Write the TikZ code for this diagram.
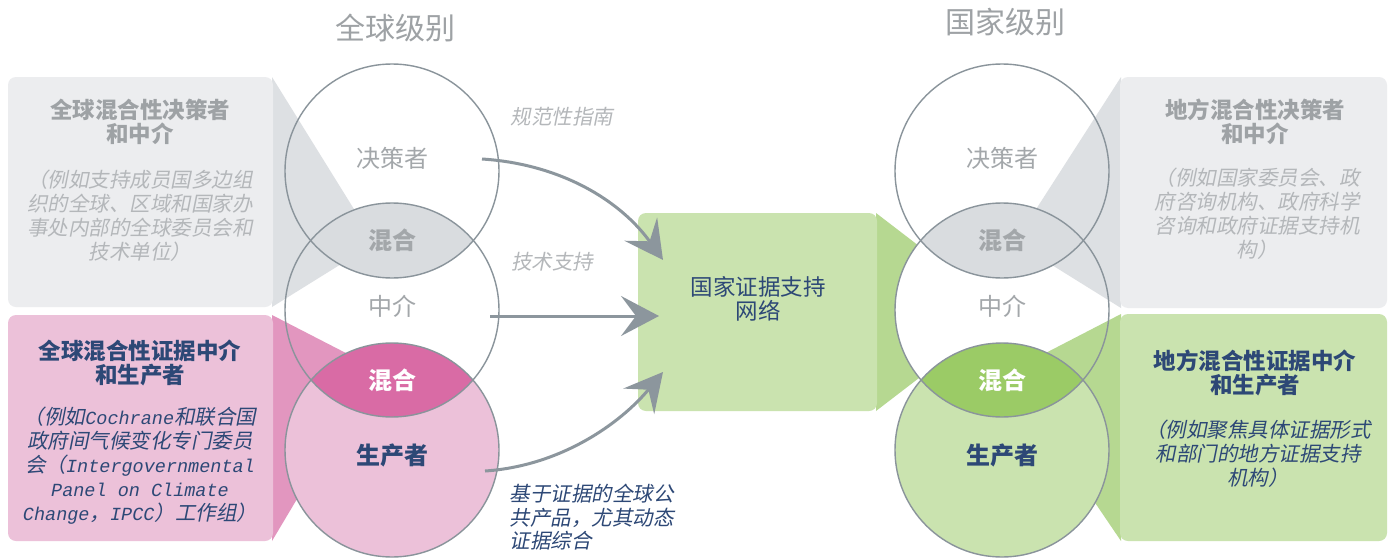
\documentclass[tikz,border=0pt]{standalone}
\usepackage{fontspec}
\setmainfont{Noto Sans CJK SC}[AutoFakeSlant=0.2]
\setmonofont{Liberation Mono}
\usetikzlibrary{arrows.meta}
\definecolor{headgray}{HTML}{9EA2A5}
\definecolor{textgray}{HTML}{A3A7AA}
\definecolor{notegray}{HTML}{B4B7BA}
\definecolor{navy}{HTML}{2D4876}
\definecolor{ringgray}{HTML}{8A949B}
\definecolor{arrowgray}{HTML}{8C969D}
\definecolor{boxgray}{HTML}{ECEDEF}
\definecolor{wedgegray}{HTML}{DDE0E3}
\definecolor{lensgray}{HTML}{D9DCDF}
\definecolor{boxpink}{HTML}{ECC1D9}
\definecolor{wedgepink}{HTML}{E296BF}
\definecolor{lenspink}{HTML}{D96BA5}
\definecolor{boxgreen}{HTML}{CAE3AF}
\definecolor{wedgegreen}{HTML}{B6D891}
\definecolor{lensgreen}{HTML}{9BCB66}
\newcommand{\fsz}[2]{\fontsize{#1}{#2}\selectfont}
\newcommand{\lat}[1]{{\ttfamily\fsz{18.5}{24}#1}}
\begin{document}
\begin{tikzpicture}[x=1pt,y=-1pt,
    ring/.style={draw=ringgray,line width=1.4pt},
    levelhead/.style={font=\fsz{30}{32},text=headgray},
    ringlabel/.style={font=\fsz{24}{26}},
    boxtitle/.style={align=center,font=\fsz{22.5}{24}\bfseries},
    boxnote/.style={align=center,font=\fsz{20.5}{24}\itshape},
    flowlabel/.style={font=\fsz{20.5}{23.5}\itshape},
    flow/.style={draw=arrowgray,line width=3pt,-{Stealth[length=38pt,width=40pt,inset=15pt]}}]
  \useasboundingbox[fill=white] (0,0) rectangle (1392,557);
  % centres of the rings
  \coordinate (gdm) at (392,171);
  \coordinate (gbr) at (392,310);
  \coordinate (gpr) at (392,450);
  \coordinate (ndm) at (1002,171);
  \coordinate (nbr) at (1002,310);
  \coordinate (npr) at (1002,450);
  % left boxes and their wedges
  \fill[wedgegray] (272,77) -- (375,243) -- (272,307) -- cycle;
  \fill[boxgray,rounded corners=8pt] (8,77) rectangle (273,307);
  \fill[wedgepink] (272,315) -- (375,368) -- (272,541) -- cycle;
  \fill[boxpink,rounded corners=8pt] (8,315) rectangle (273,541);
  % network box
  \fill[wedgegreen] (876,213) -- (1005,312) -- (876,411) -- cycle;
  \fill[boxgreen,rounded corners=8pt] (638,213) rectangle (877,411);
  \fill[white] (nbr) circle[radius=107pt];
  % right boxes and their wedges
  \fill[wedgegray] (1121,77) -- (1015,242) -- (1121,308) -- cycle;
  \fill[boxgray,rounded corners=8pt] (1120,77) rectangle (1387,308);
  \fill[wedgegreen] (1121,314) -- (1007,373) -- (1121,541) -- cycle;
  \fill[boxgreen,rounded corners=8pt] (1120,314) rectangle (1387,541);
  % rings and overlaps
  \fill[boxpink] (gpr) circle[radius=107pt];
  \fill[boxgreen] (npr) circle[radius=107pt];
  \begin{scope}
    \clip (gdm) circle[radius=107pt];
    \fill[lensgray] (gbr) circle[radius=107pt];
  \end{scope}
  \begin{scope}
    \clip (gbr) circle[radius=107pt];
    \fill[lenspink] (gpr) circle[radius=107pt];
  \end{scope}
  \begin{scope}
    \clip (ndm) circle[radius=107pt];
    \fill[lensgray] (nbr) circle[radius=107pt];
  \end{scope}
  \begin{scope}
    \clip (nbr) circle[radius=107pt];
    \fill[lensgreen] (npr) circle[radius=107pt];
  \end{scope}
  \foreach \c in {gdm,gbr,gpr,ndm,nbr,npr}
    \draw[ring] (\c) circle[radius=107pt];
  % headings
  \node[levelhead] (ghead) at (395,28) {全球级别};
  \node[levelhead] (nhead) at (1005,22) {国家级别};
  % ring labels
  \node[ringlabel,text=textgray] (gdmtxt) at (392,158) {决策者};
  \node[ringlabel,text=textgray,font=\fsz{24}{26}\bfseries] (gmix1) at (392,240) {混合};
  \node[ringlabel,text=textgray] (gbrtxt) at (392,306) {中介};
  \node[ringlabel,text=white,font=\fsz{24}{26}\bfseries] (gmix2) at (392,380) {混合};
  \node[ringlabel,text=navy,font=\fsz{24}{26}\bfseries] (gprtxt) at (392,455) {生产者};
  \node[ringlabel,text=textgray] (ndmtxt) at (1002,158) {决策者};
  \node[ringlabel,text=textgray,font=\fsz{24}{26}\bfseries] (nmix1) at (1002,240) {混合};
  \node[ringlabel,text=textgray] (nbrtxt) at (1002,306) {中介};
  \node[ringlabel,text=white,font=\fsz{24}{26}\bfseries] (nmix2) at (1002,380) {混合};
  \node[ringlabel,text=navy,font=\fsz{24}{26}\bfseries] (nprtxt) at (1002,455) {生产者};
  % box texts
  \node[boxtitle,text=headgray] (gdmhead) at (140,122) {全球混合性决策者\\和中介};
  \node[boxnote,text=notegray] (gdmnote) at (140,216)
    {（例如支持成员国多边组\\织的全球、区域和国家办\\事处内部的全球委员会和\\技术单位）};
  \node[boxtitle,text=navy] (gprhead) at (140,363) {全球混合性证据中介\\和生产者};
  \node[boxnote,text=navy] (gprnote) at (140,466)
    {（例如\lat{Cochrane}和联合国\\政府间气候变化专门委员\\会（\lat{Intergovernmental}\\\lat{Panel on Climate}\\\lat{Change}，\lat{IPCC}）工作组）};
  \node[align=center,text=navy,font=\fsz{22.5}{24}] (net) at (758,299) {国家证据支持\\网络};
  \node[boxtitle,text=headgray] (ndmhead) at (1255,122) {地方混合性决策者\\和中介};
  \node[boxnote,text=notegray] (ndmnote) at (1257,214)
    {（例如国家委员会、政\\府咨询机构、政府科学\\咨询和政府证据支持机\\构）};
  \node[boxtitle,text=navy] (nprhead) at (1255,373) {地方混合性证据中介\\和生产者};
  \node[boxnote,text=navy] (nprnote) at (1258,454)
    {（例如聚焦具体证据形式\\和部门的地方证据支持\\机构）};
  % flows into the network
  \coordinate (gdmout) at (482,159);
  \coordinate (gbrout) at (490,316);
  \coordinate (gprout) at (485,471);
  \coordinate (netin1) at (663,260);
  \coordinate (netin2) at (659,316);
  \coordinate (netin3) at (663,372);
  \draw[flow] (gdmout) .. controls (560,164) and (620,200) .. (netin1);
  \draw[flow] (gbrout) -- (netin2);
  \draw[flow] (gprout) .. controls (560,466) and (620,424) .. (netin3);
  \node[flowlabel,text=notegray] (guide) at (562,117) {规范性指南};
  \node[flowlabel,text=notegray] (tech) at (552,262) {技术支持};
  \node[flowlabel,text=navy,align=left,anchor=north west] (goods) at (506,481)
    {基于证据的全球公\\共产品，尤其动态\\证据综合};
\end{tikzpicture}
\end{document}
